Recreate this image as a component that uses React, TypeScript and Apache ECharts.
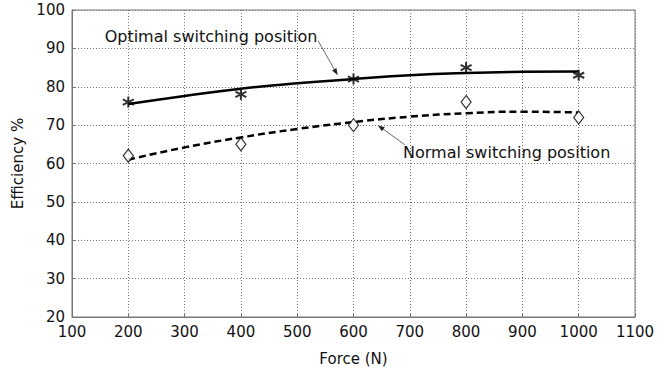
import React, { useEffect, useRef } from "react";
import * as echarts from "echarts";

const forces = [200, 400, 600, 800, 1000];
const optimalMeasured = [76, 78, 82, 85, 83];
const normalMeasured = [62, 65, 70, 76, 72];

const fitForces = [200, 300, 400, 500, 600, 700, 800, 900, 1000];
const optimalFit = [75.5, 77.6, 79.5, 80.9, 82, 83, 83.6, 83.9, 84];
const normalFit = [61, 64.2, 66.8, 69, 70.8, 72.2, 73.1, 73.5, 73.3];

const xTicks = { min: 100, max: 1100, interval: 100 };
const yTicks = { min: 20, max: 100, interval: 10 };

const labelOptimal = "Optimal switching position";
const labelNormal = "Normal switching position";

// annotation anchors in data coordinates
const optText = [158, 93.1];
const optArrowTail = [537, 92];
const optArrowHead = [572, 83];
const normText = [688, 62.8];
const normArrowTail = [691, 64.9];
const normArrowHead = [643, 70];

const FONT = "'DejaVu Sans', Verdana, sans-serif";

const asterisk =
  "path://M5 0 L5 10 M0.67 2.5 L9.33 7.5 M0.67 7.5 L9.33 2.5";

function arrowGraphics(tail: number[], head: number[]) {
  const dx = head[0] - tail[0];
  const dy = head[1] - tail[1];
  const len = Math.hypot(dx, dy) || 1;
  const ux = dx / len;
  const uy = dy / len;
  const hl = 7;
  const hw = 2.5;
  const bx = head[0] - ux * hl;
  const by = head[1] - uy * hl;
  return [
    {
      type: "line",
      shape: { x1: tail[0], y1: tail[1], x2: bx, y2: by },
      style: { stroke: "#444", lineWidth: 0.8 },
      silent: true,
    },
    {
      type: "polygon",
      shape: {
        points: [
          [head[0], head[1]],
          [bx - uy * hw, by + ux * hw],
          [bx + uy * hw, by - ux * hw],
        ],
      },
      style: { fill: "#222" },
      silent: true,
    },
  ];
}

export default function App() {
  const ref = useRef<HTMLDivElement>(null);
  useEffect(() => {
    if (!ref.current) return;
    const chart = echarts.init(ref.current, undefined, { renderer: "svg" });
    const axisLabelStyle = { color: "#111", fontSize: 15, fontFamily: FONT };
    const option: any = {
      animation: false,
      backgroundColor: "#fff",
      grid: {
        left: 72,
        right: 35,
        top: 10,
        bottom: 49,
        show: true,
        borderColor: "#777",
        borderWidth: 1,
        backgroundColor: "transparent",
      },
      xAxis: {
        type: "value",
        min: xTicks.min,
        max: xTicks.max,
        interval: xTicks.interval,
        name: "Force (N)",
        nameLocation: "middle",
        nameGap: 34,
        nameTextStyle: { color: "#111", fontSize: 15, fontFamily: FONT },
        axisLine: { show: true, lineStyle: { color: "#777", width: 1 } },
        axisTick: { show: true, inside: true, length: 4, lineStyle: { color: "#777" } },
        axisLabel: { ...axisLabelStyle, margin: 7, formatter: (v: number) => String(v) },
        splitLine: { show: true, lineStyle: { color: "#777", type: [1, 2], width: 1 } },
      },
      yAxis: {
        type: "value",
        min: yTicks.min,
        max: yTicks.max,
        interval: yTicks.interval,
        name: "Efficiency %",
        nameLocation: "middle",
        nameGap: 45,
        nameRotate: 90,
        nameTextStyle: { color: "#111", fontSize: 15, fontFamily: FONT },
        axisLine: { show: true, lineStyle: { color: "#777", width: 1 } },
        axisTick: { show: true, inside: true, length: 4, lineStyle: { color: "#777" } },
        axisLabel: { ...axisLabelStyle, margin: 7, formatter: (v: number) => String(v) },
        splitLine: { show: true, lineStyle: { color: "#777", type: [1, 2], width: 1 } },
      },
      series: [
        {
          name: "Optimal fit",
          type: "line",
          smooth: true,
          symbol: "none",
          data: fitForces.map((f, i) => [f, optimalFit[i]]),
          lineStyle: { color: "#000", width: 2.5 },
          z: 3,
        },
        {
          name: "Normal fit",
          type: "line",
          smooth: true,
          symbol: "none",
          data: fitForces.map((f, i) => [f, normalFit[i]]),
          lineStyle: { color: "#000", width: 2.5, type: [7, 4] },
          z: 3,
        },
        {
          name: "Optimal measured",
          type: "scatter",
          symbol: asterisk,
          symbolSize: [11, 11],
          data: forces.map((f, i) => [f, optimalMeasured[i]]),
          itemStyle: { color: "none", borderColor: "#000", borderWidth: 2 },
          z: 4,
        },
        {
          name: "Normal measured",
          type: "scatter",
          symbol: "diamond",
          symbolSize: [10, 13],
          data: forces.map((f, i) => [f, normalMeasured[i]]),
          itemStyle: { color: "#fff", borderColor: "#000", borderWidth: 1.2 },
          z: 4,
        },
      ],
    };
    chart.setOption(option);

    const px = (p: number[]) => chart.convertToPixel({ gridIndex: 0 }, p) as number[];
    const t1 = px(optText);
    const t2 = px(normText);
    const textStyle = (text: string) => ({
      text,
      fill: "#111",
      font: `16px ${FONT}`,
      textVerticalAlign: "middle",
      verticalAlign: "middle",
    });
    const graphic: any[] = [
      { type: "text", x: t1[0], y: t1[1], style: textStyle(labelOptimal), z: 10 },
      { type: "text", x: t2[0], y: t2[1], style: textStyle(labelNormal), z: 10 },
      ...arrowGraphics(px(optArrowTail), px(optArrowHead)),
      ...arrowGraphics(px(normArrowTail), px(normArrowHead)),
    ];
    chart.setOption({ graphic });

    return () => chart.dispose();
  }, []);
  return (
    <div
      ref={ref}
      style={{ position: "fixed", left: 0, top: 0, width: 670, height: 371 }}
    />
  );
}
